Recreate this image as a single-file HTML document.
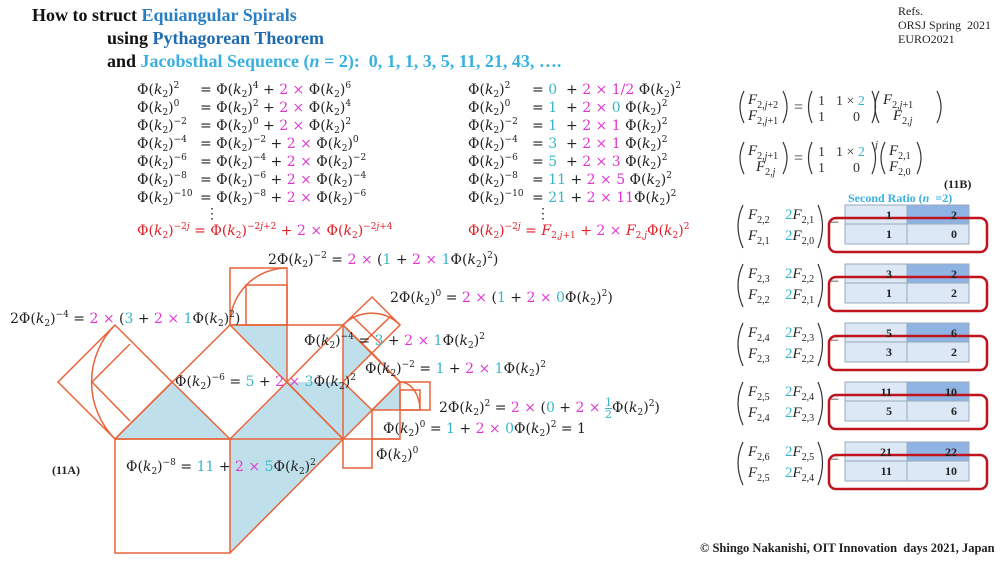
<!DOCTYPE html>
<html><head><meta charset="utf-8">
<style>
body{margin:0;width:1000px;height:563px;background:#fff;position:relative;overflow:hidden;font-family:"Liberation Serif",serif;color:#222}
.a{position:absolute;white-space:nowrap}
.t{font-weight:bold;font-size:18px;color:#111}
.b1{color:#2a7fc4}.b2{color:#1f6bb0}.b3{color:#3ab0e0}
.m{font-size:14px;font-family:"DejaVu Serif","Liberation Serif",serif;line-height:16px}
.m sup{font-size:9px;vertical-align:6px;line-height:0}
.m sub{font-size:9px;vertical-align:-3px;line-height:0}
.f{font-size:15px;font-family:"Liberation Serif",serif;font-style:italic;line-height:16px}
.f sub{font-size:10px;vertical-align:-4px;line-height:0;font-style:normal}
.f sub i{font-style:italic}
.p{color:#e035d0}.c{color:#38b6c8}.r{color:#e0202a}
.sm{font-size:12px;font-family:"Liberation Serif",serif}
.n{font-style:normal}
</style></head><body>
<div class="a t" style="left:32px;top:5px">How to struct <span class="b1">Equiangular Spirals</span></div>
<div class="a t" style="left:107px;top:28px">using <span class="b2">Pythagorean Theorem</span></div>
<div class="a t" style="left:107px;top:51px">and <span class="b3">Jacobsthal Sequence (<i>n</i> = 2):&nbsp; 0, 1, 1, 3, 5, 11, 21, 43, ….</span></div>
<div class="a sm" style="left:898px;top:4px;line-height:14px">Refs.<br>ORSJ Spring&nbsp; 2021<br>EURO2021</div>

<!-- left column -->
<div class="a m" style="left:137px;top:82px">Φ(<i>k</i><sub>2</sub>)<sup>2</sup></div><div class="a m" style="left:200px;top:82px">= Φ(<i>k</i><sub>2</sub>)<sup>4</sup> + <span class="p">2 ×</span> Φ(<i>k</i><sub>2</sub>)<sup>6</sup></div>
<div class="a m" style="left:137px;top:100px">Φ(<i>k</i><sub>2</sub>)<sup>0</sup></div><div class="a m" style="left:200px;top:100px">= Φ(<i>k</i><sub>2</sub>)<sup>2</sup> + <span class="p">2 ×</span> Φ(<i>k</i><sub>2</sub>)<sup>4</sup></div>
<div class="a m" style="left:137px;top:118px">Φ(<i>k</i><sub>2</sub>)<sup>−2</sup></div><div class="a m" style="left:200px;top:118px">= Φ(<i>k</i><sub>2</sub>)<sup>0</sup> + <span class="p">2 ×</span> Φ(<i>k</i><sub>2</sub>)<sup>2</sup></div>
<div class="a m" style="left:137px;top:136px">Φ(<i>k</i><sub>2</sub>)<sup>−4</sup></div><div class="a m" style="left:200px;top:136px">= Φ(<i>k</i><sub>2</sub>)<sup>−2</sup> + <span class="p">2 ×</span> Φ(<i>k</i><sub>2</sub>)<sup>0</sup></div>
<div class="a m" style="left:137px;top:154px">Φ(<i>k</i><sub>2</sub>)<sup>−6</sup></div><div class="a m" style="left:200px;top:154px">= Φ(<i>k</i><sub>2</sub>)<sup>−4</sup> + <span class="p">2 ×</span> Φ(<i>k</i><sub>2</sub>)<sup>−2</sup></div>
<div class="a m" style="left:137px;top:172px">Φ(<i>k</i><sub>2</sub>)<sup>−8</sup></div><div class="a m" style="left:200px;top:172px">= Φ(<i>k</i><sub>2</sub>)<sup>−6</sup> + <span class="p">2 ×</span> Φ(<i>k</i><sub>2</sub>)<sup>−4</sup></div>
<div class="a m" style="left:137px;top:190px">Φ(<i>k</i><sub>2</sub>)<sup>−10</sup></div><div class="a m" style="left:200px;top:190px">= Φ(<i>k</i><sub>2</sub>)<sup>−8</sup> + <span class="p">2 ×</span> Φ(<i>k</i><sub>2</sub>)<sup>−6</sup></div>
<div class="a m" style="left:205px;top:206px">⋮</div>
<div class="a m r" style="left:137px;top:223px">Φ(<i>k</i><sub>2</sub>)<sup>−2<i>j</i></sup> = Φ(<i>k</i><sub>2</sub>)<sup>−2<i>j</i>+2</sup> + <span class="p">2 ×</span> Φ(<i>k</i><sub>2</sub>)<sup>−2<i>j</i>+4</sup></div>

<!-- right column -->
<div class="a m" style="left:468px;top:82px">Φ(<i>k</i><sub>2</sub>)<sup>2</sup></div><div class="a m" style="left:532px;top:82px">= <span class="c">0</span>&nbsp; + <span class="p">2 × 1/2</span> Φ(<i>k</i><sub>2</sub>)<sup>2</sup></div>
<div class="a m" style="left:468px;top:100px">Φ(<i>k</i><sub>2</sub>)<sup>0</sup></div><div class="a m" style="left:532px;top:100px">= <span class="c">1</span>&nbsp; + <span class="p">2 ×</span> <span class="c">0</span> Φ(<i>k</i><sub>2</sub>)<sup>2</sup></div>
<div class="a m" style="left:468px;top:118px">Φ(<i>k</i><sub>2</sub>)<sup>−2</sup></div><div class="a m" style="left:532px;top:118px">= <span class="c">1</span>&nbsp; + <span class="p">2 × 1</span> Φ(<i>k</i><sub>2</sub>)<sup>2</sup></div>
<div class="a m" style="left:468px;top:136px">Φ(<i>k</i><sub>2</sub>)<sup>−4</sup></div><div class="a m" style="left:532px;top:136px">= <span class="c">3</span>&nbsp; + <span class="p">2 × 1</span> Φ(<i>k</i><sub>2</sub>)<sup>2</sup></div>
<div class="a m" style="left:468px;top:154px">Φ(<i>k</i><sub>2</sub>)<sup>−6</sup></div><div class="a m" style="left:532px;top:154px">= <span class="c">5</span>&nbsp; + <span class="p">2 × 3</span> Φ(<i>k</i><sub>2</sub>)<sup>2</sup></div>
<div class="a m" style="left:468px;top:172px">Φ(<i>k</i><sub>2</sub>)<sup>−8</sup></div><div class="a m" style="left:532px;top:172px">= <span class="c">11</span> + <span class="p">2 × 5</span> Φ(<i>k</i><sub>2</sub>)<sup>2</sup></div>
<div class="a m" style="left:468px;top:190px">Φ(<i>k</i><sub>2</sub>)<sup>−10</sup></div><div class="a m" style="left:532px;top:190px">= <span class="c">21</span> + <span class="p">2 × 11</span>Φ(<i>k</i><sub>2</sub>)<sup>2</sup></div>
<div class="a m" style="left:536px;top:206px">⋮</div>
<div class="a m r" style="left:468px;top:223px">Φ(<i>k</i><sub>2</sub>)<sup>−2<i>j</i></sup> = <i>F</i><sub>2,<i>j</i>+1</sub> + <span class="p">2 ×</span> <i>F</i><sub>2,<i>j</i></sub>Φ(<i>k</i><sub>2</sub>)<sup>2</sup></div>

<svg class="a" style="left:0;top:0" width="1000" height="563">
<g fill="#bfe0ea" stroke="none">
<polygon points="115,439 230,439 172,382"/>
<polygon points="230,439 343,439 287,382"/>
<polygon points="230,439 230,553 343,439"/>
<polygon points="230,325 287,325 287,382"/>
<polygon points="287,382 343,382 343,439"/>
<polygon points="343,325 372,353 343,382"/>
<polygon points="343,382 372,410 343,439"/>
<polygon points="372,410 400,382 400,410"/>
</g>
<g fill="none" stroke="#e8643a" stroke-width="1.5">
<rect x="115" y="439" width="115" height="114"/>
<line x1="115" y1="439" x2="400" y2="439"/>
<line x1="230" y1="553" x2="400" y2="382"/>
<line x1="115" y1="439" x2="230" y2="325"/>
<line x1="230" y1="325" x2="343" y2="439"/>
<line x1="172" y1="382" x2="230" y2="439"/>
<line x1="230" y1="439" x2="287" y2="382"/>
<polygon points="115,439 58,382 115,325 172,382"/>
<line x1="92" y1="382" x2="130" y2="344"/>
<line x1="92" y1="382" x2="130" y2="421"/>
<path d="M115,325 A81,81 0 0 0 115,439"/>
<rect x="230" y="268" width="57" height="57"/>
<rect x="246" y="285" width="41" height="40"/>
<path d="M230,325 A57,57 0 0 1 287,268"/>
<polyline points="230,325 343,325 343,468 372,468 372,439"/>
<line x1="287" y1="325" x2="287" y2="382"/>
<line x1="287" y1="382" x2="343" y2="325"/>
<line x1="343" y1="325" x2="400" y2="382"/>
<line x1="287" y1="382" x2="343" y2="439"/>
<polygon points="343,325 372,297 400,325 372,353"/>
<line x1="352" y1="316" x2="381" y2="344"/>
<line x1="391" y1="316" x2="362" y2="344"/>
<path d="M343,325 A40,40 0 0 1 400,325"/>
<polygon points="343,382 372,353 400,382 372,410"/>
<rect x="400" y="382" width="30" height="28"/>
<rect x="400" y="390" width="20" height="20"/>
<path d="M400,382 A20,28 0 0 1 420,410"/>
<rect x="372" y="410" width="28" height="29"/>
</g>
</svg>

<div class="a m" style="left:268px;top:252px">2Φ(<i>k</i><sub>2</sub>)<sup>−2</sup> = <span class="p">2 ×</span> (<span class="c">1</span> + <span class="p">2 ×</span> <span class="c">1</span>Φ(<i>k</i><sub>2</sub>)<sup>2</sup>)</div>
<div class="a m" style="left:390px;top:290px">2Φ(<i>k</i><sub>2</sub>)<sup>0</sup> = <span class="p">2 ×</span> (<span class="c">1</span> + <span class="p">2 ×</span> <span class="c">0</span>Φ(<i>k</i><sub>2</sub>)<sup>2</sup>)</div>
<div class="a m" style="left:10px;top:311px">2Φ(<i>k</i><sub>2</sub>)<sup>−4</sup> = <span class="p">2 ×</span> (<span class="c">3</span> + <span class="p">2 ×</span> <span class="c">1</span>Φ(<i>k</i><sub>2</sub>)<sup>2</sup>)</div>
<div class="a m" style="left:304px;top:333px">Φ(<i>k</i><sub>2</sub>)<sup>−4</sup> = <span class="c">3</span> + <span class="p">2 ×</span> <span class="c">1</span>Φ(<i>k</i><sub>2</sub>)<sup>2</sup></div>
<div class="a m" style="left:365px;top:361px">Φ(<i>k</i><sub>2</sub>)<sup>−2</sup> = <span class="c">1</span> + <span class="p">2 ×</span> <span class="c">1</span>Φ(<i>k</i><sub>2</sub>)<sup>2</sup></div>
<div class="a m" style="left:175px;top:374px">Φ(<i>k</i><sub>2</sub>)<sup>−6</sup> = <span class="c">5</span> + <span class="p">2 ×</span> <span class="c">3</span>Φ(<i>k</i><sub>2</sub>)<sup>2</sup></div>
<div class="a m" style="left:439px;top:397px">2Φ(<i>k</i><sub>2</sub>)<sup>2</sup> = <span class="p">2 ×</span> (<span class="c">0</span> + <span class="p">2 ×</span> <span class="c" style="display:inline-block;text-align:center;font-size:11px;line-height:11px;vertical-align:-6px">1<br><span style="display:block;border-top:1px solid #38b6c8">2</span></span>Φ(<i>k</i><sub>2</sub>)<sup>2</sup>)</div>
<div class="a m" style="left:383px;top:421px">Φ(<i>k</i><sub>2</sub>)<sup>0</sup> = <span class="c">1</span> + <span class="p">2 ×</span> <span class="c">0</span>Φ(<i>k</i><sub>2</sub>)<sup>2</sup> = 1</div>
<div class="a m" style="left:376px;top:447px">Φ(<i>k</i><sub>2</sub>)<sup>0</sup></div>
<div class="a m" style="left:126px;top:459px">Φ(<i>k</i><sub>2</sub>)<sup>−8</sup> = <span class="c">11</span> + <span class="p">2 ×</span> <span class="c">5</span>Φ(<i>k</i><sub>2</sub>)<sup>2</sup></div>
<div class="a sm" style="left:52px;top:463px;font-weight:bold">(11A)</div>

<svg class="a" style="left:0;top:0" width="1000" height="563">
<g fill="none" stroke="#333" stroke-width="1.2">
<path d="M744,91 Q736,107 744,123"/><path d="M783,91 Q791,107 783,123"/>
<path d="M812,91 Q805,107 812,123"/><path d="M872,91 Q879,107 872,123"/>
<path d="M879,91 Q871,107 879,123"/><path d="M937,91 Q945,107 937,123"/>
<path d="M744,142 Q736,158 744,174"/><path d="M783,142 Q791,158 783,174"/>
<path d="M812,142 Q805,158 812,174"/><path d="M872,142 Q879,158 872,174"/>
<path d="M885,142 Q877,158 885,174"/><path d="M917,142 Q925,158 917,174"/>
<path d="M743,205 Q733,226 743,248"/><path d="M818,205 Q827,226 818,248"/>
<path d="M743,264 Q733,285 743,307"/><path d="M818,264 Q827,285 818,307"/>
<path d="M743,323 Q733,344 743,366"/><path d="M818,323 Q827,344 818,366"/>
<path d="M743,382 Q733,403 743,425"/><path d="M818,382 Q827,403 818,425"/>
<path d="M743,442 Q733,463 743,485"/><path d="M818,442 Q827,463 818,485"/>
</g>
<g font-family="Liberation Serif" font-size="16" fill="#333">
<text x="794" y="112">=</text><text x="794" y="163">=</text>
<text x="830" y="226">=</text><text x="830" y="285">=</text><text x="830" y="344">=</text><text x="830" y="403">=</text><text x="830" y="463">=</text>
</g>
<g font-family="Liberation Serif" font-size="14" fill="#333">
<text x="818" y="105">1</text><text x="836" y="105">1 × <tspan fill="#38b6c8">2</tspan></text>
<text x="818" y="121">1</text><text x="853" y="121">0</text>
<text x="818" y="156">1</text><text x="836" y="156">1 × <tspan fill="#38b6c8">2</tspan></text>
<text x="818" y="172">1</text><text x="853" y="172">0</text>
<text x="875" y="148" font-style="italic" font-size="11">j</text>
</g>
</svg>
<div class="a f" style="left:748px;top:92px"><i>F</i><sub>2,<i>j</i>+2</sub></div>
<div class="a f" style="left:748px;top:108px"><i>F</i><sub>2,<i>j</i>+1</sub></div>
<div class="a f" style="left:883px;top:92px"><i>F</i><sub>2,<i>j</i>+1</sub></div>
<div class="a f" style="left:893px;top:108px"><i>F</i><sub>2,<i>j</i></sub></div>
<div class="a f" style="left:748px;top:143px"><i>F</i><sub>2,<i>j</i>+1</sub></div>
<div class="a f" style="left:756px;top:159px"><i>F</i><sub>2,<i>j</i></sub></div>
<div class="a f" style="left:889px;top:143px"><i>F</i><sub>2,1</sub></div>
<div class="a f" style="left:889px;top:159px"><i>F</i><sub>2,0</sub></div>
<div class="a sm" style="left:944px;top:177px;font-weight:bold">(11B)</div>
<div class="a sm" style="left:848px;top:191px;font-weight:bold;color:#3ab0e0">Second Ratio (<i>n</i>&nbsp; =2)</div>

<svg class="a" style="left:0;top:0" width="1000" height="563">
<g font-family="Liberation Serif" font-weight="bold" font-size="12" fill="#222" text-anchor="end">
<g transform="translate(0,205)">
<rect x="845" y="0" width="62" height="19" fill="#dce8f6" stroke="#9ab"/><rect x="907" y="0" width="62" height="19" fill="#8fb4e3" stroke="#9ab"/>
<rect x="845" y="19" width="62" height="20" fill="#dce8f6" stroke="#9ab"/><rect x="907" y="19" width="62" height="20" fill="#dce8f6" stroke="#9ab"/>
<rect x="829" y="13" width="158" height="34" rx="7" fill="none" stroke="#c0141c" stroke-width="2.5"/>
<text x="892" y="14">1</text><text x="957" y="14">2</text><text x="892" y="33">1</text><text x="957" y="33">0</text>
</g>
<g transform="translate(0,264)">
<rect x="845" y="0" width="62" height="19" fill="#dce8f6" stroke="#9ab"/><rect x="907" y="0" width="62" height="19" fill="#8fb4e3" stroke="#9ab"/>
<rect x="845" y="19" width="62" height="20" fill="#dce8f6" stroke="#9ab"/><rect x="907" y="19" width="62" height="20" fill="#dce8f6" stroke="#9ab"/>
<rect x="829" y="13" width="158" height="34" rx="7" fill="none" stroke="#c0141c" stroke-width="2.5"/>
<text x="892" y="14">3</text><text x="957" y="14">2</text><text x="892" y="33">1</text><text x="957" y="33">2</text>
</g>
<g transform="translate(0,323)">
<rect x="845" y="0" width="62" height="19" fill="#dce8f6" stroke="#9ab"/><rect x="907" y="0" width="62" height="19" fill="#8fb4e3" stroke="#9ab"/>
<rect x="845" y="19" width="62" height="20" fill="#dce8f6" stroke="#9ab"/><rect x="907" y="19" width="62" height="20" fill="#dce8f6" stroke="#9ab"/>
<rect x="829" y="13" width="158" height="34" rx="7" fill="none" stroke="#c0141c" stroke-width="2.5"/>
<text x="892" y="14">5</text><text x="957" y="14">6</text><text x="892" y="33">3</text><text x="957" y="33">2</text>
</g>
<g transform="translate(0,382)">
<rect x="845" y="0" width="62" height="19" fill="#dce8f6" stroke="#9ab"/><rect x="907" y="0" width="62" height="19" fill="#8fb4e3" stroke="#9ab"/>
<rect x="845" y="19" width="62" height="20" fill="#dce8f6" stroke="#9ab"/><rect x="907" y="19" width="62" height="20" fill="#dce8f6" stroke="#9ab"/>
<rect x="829" y="13" width="158" height="34" rx="7" fill="none" stroke="#c0141c" stroke-width="2.5"/>
<text x="892" y="14">11</text><text x="957" y="14">10</text><text x="892" y="33">5</text><text x="957" y="33">6</text>
</g>
<g transform="translate(0,442)">
<rect x="845" y="0" width="62" height="19" fill="#dce8f6" stroke="#9ab"/><rect x="907" y="0" width="62" height="19" fill="#8fb4e3" stroke="#9ab"/>
<rect x="845" y="19" width="62" height="20" fill="#dce8f6" stroke="#9ab"/><rect x="907" y="19" width="62" height="20" fill="#dce8f6" stroke="#9ab"/>
<rect x="829" y="13" width="158" height="34" rx="7" fill="none" stroke="#c0141c" stroke-width="2.5"/>
<text x="892" y="14">21</text><text x="957" y="14">22</text><text x="892" y="33">11</text><text x="957" y="33">10</text>
</g>
</g>
</svg>

<div class="a f" style="left:748px;top:207px"><i>F</i><sub>2,2</sub></div><div class="a f" style="left:785px;top:207px"><span class="c n">2</span><i>F</i><sub>2,1</sub></div>
<div class="a f" style="left:748px;top:228px"><i>F</i><sub>2,1</sub></div><div class="a f" style="left:785px;top:228px"><span class="c n">2</span><i>F</i><sub>2,0</sub></div>
<div class="a f" style="left:748px;top:266px"><i>F</i><sub>2,3</sub></div><div class="a f" style="left:785px;top:266px"><span class="c n">2</span><i>F</i><sub>2,2</sub></div>
<div class="a f" style="left:748px;top:287px"><i>F</i><sub>2,2</sub></div><div class="a f" style="left:785px;top:287px"><span class="c n">2</span><i>F</i><sub>2,1</sub></div>
<div class="a f" style="left:748px;top:325px"><i>F</i><sub>2,4</sub></div><div class="a f" style="left:785px;top:325px"><span class="c n">2</span><i>F</i><sub>2,3</sub></div>
<div class="a f" style="left:748px;top:346px"><i>F</i><sub>2,3</sub></div><div class="a f" style="left:785px;top:346px"><span class="c n">2</span><i>F</i><sub>2,2</sub></div>
<div class="a f" style="left:748px;top:384px"><i>F</i><sub>2,5</sub></div><div class="a f" style="left:785px;top:384px"><span class="c n">2</span><i>F</i><sub>2,4</sub></div>
<div class="a f" style="left:748px;top:405px"><i>F</i><sub>2,4</sub></div><div class="a f" style="left:785px;top:405px"><span class="c n">2</span><i>F</i><sub>2,3</sub></div>
<div class="a f" style="left:748px;top:444px"><i>F</i><sub>2,6</sub></div><div class="a f" style="left:785px;top:444px"><span class="c n">2</span><i>F</i><sub>2,5</sub></div>
<div class="a f" style="left:748px;top:465px"><i>F</i><sub>2,5</sub></div><div class="a f" style="left:785px;top:465px"><span class="c n">2</span><i>F</i><sub>2,4</sub></div>

<div class="a sm" style="left:700px;top:541px;font-weight:bold;font-size:12.5px">© Shingo Nakanishi, OIT Innovation&nbsp; days 2021, Japan</div>
</body></html>
